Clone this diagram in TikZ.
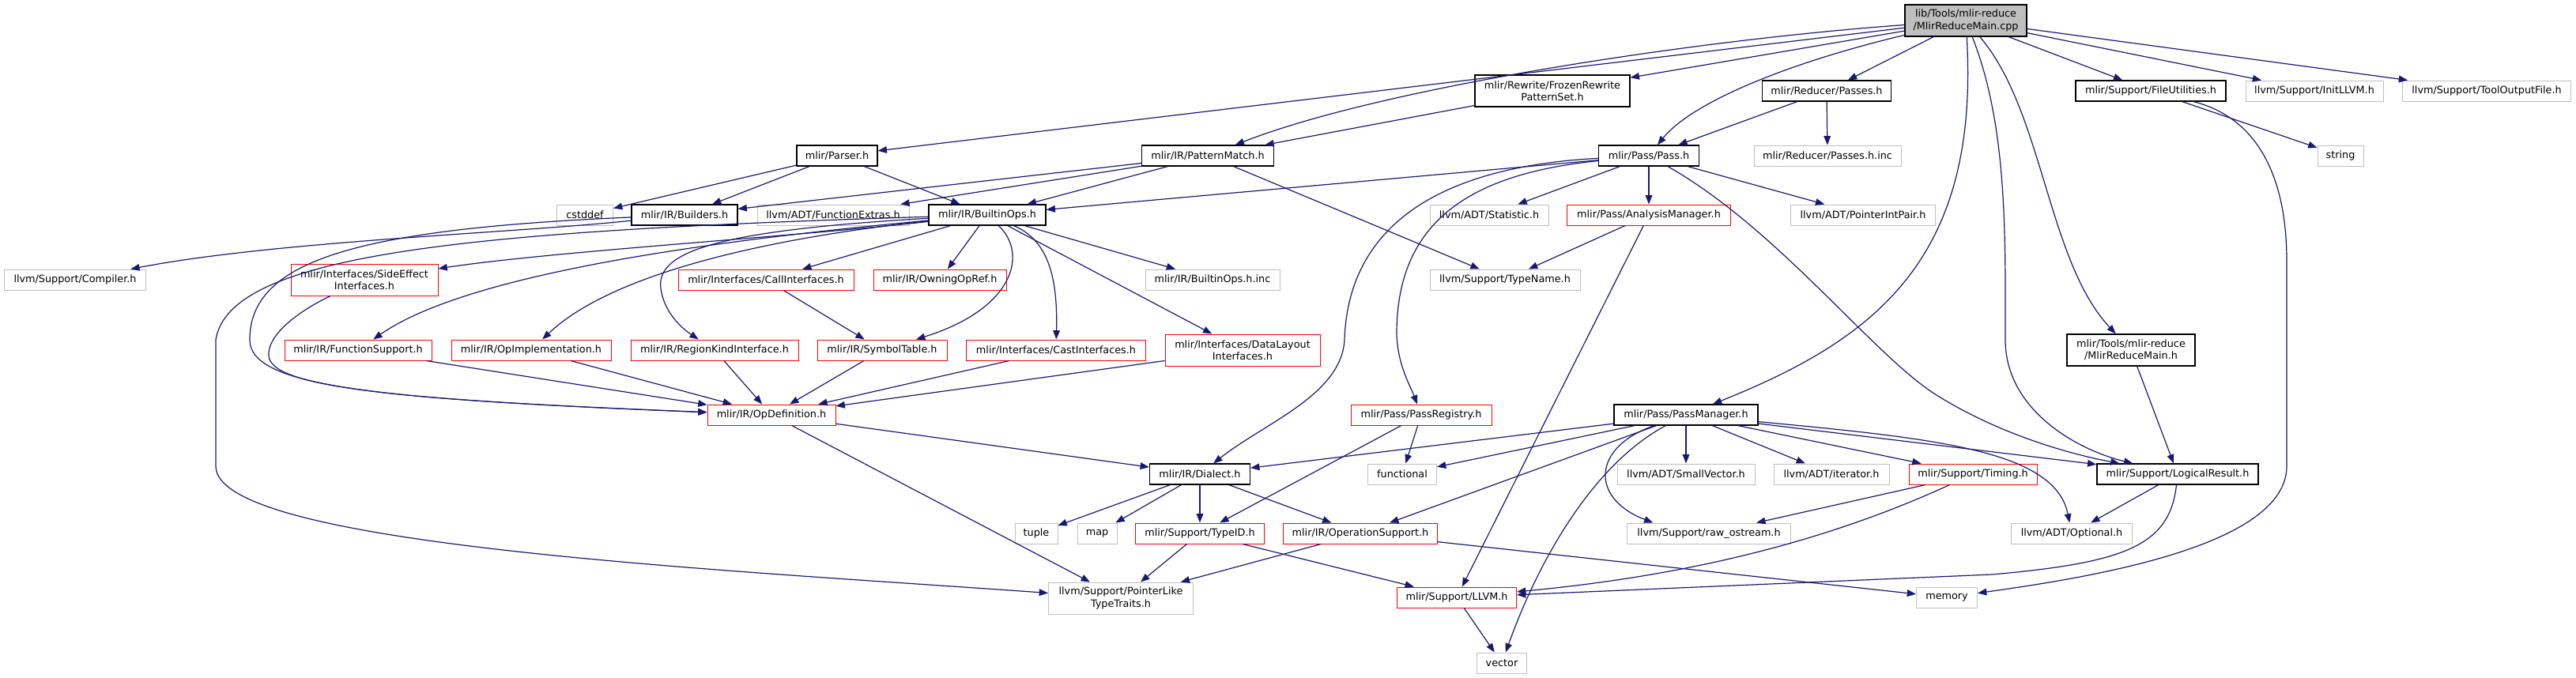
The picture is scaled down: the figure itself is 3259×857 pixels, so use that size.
\documentclass[tikz,border=0pt]{standalone}
\usepackage{fontspec}
\setmainfont{DejaVu Sans}
\usetikzlibrary{arrows.meta}

\definecolor{grey75}{HTML}{BFBFBF}
\definecolor{midnight}{HTML}{191970}

\tikzset{every picture/.style={line width=0.75pt}}
\tikzset{
  box/.style={draw, rectangle, inner xsep=2pt, inner ysep=2pt, minimum height=19.5pt,
    font=\fontsize{9.6}{11.5}\selectfont, align=center},
  file/.style={box, draw=black, line width=0.9pt},
  trunc/.style={box, draw=red},
  sys/.style={box, draw=grey75},
  root/.style={box, draw=black, line width=0.9pt, fill=grey75},
  wd/.style={minimum width=#1*0.75pt},
  tall/.style={minimum height=30pt},
  dep/.style={draw=midnight, line width=0.9pt, -{Triangle[length=8.5pt,width=6.5pt]}},
}

\begin{document}
\begin{tikzpicture}[x=0.75pt,y=0.75pt,yscale=-1,xscale=1]
\useasboundingbox (0,0) rectangle (3259,857);

%Root file
\node [root, wd=154, tall] (main) at (2487,26) {lib/Tools/mlir-reduce\\/MlirReduceMain.cpp};

% Row 1
\node [file, wd=196, tall] (frozen) at (1964,115) {mlir/Rewrite/FrozenRewrite\\PatternSet.h};
\node [file, wd=163] (reducerpasses) at (2311,115) {mlir/Reducer/Passes.h};
\node [file, wd=190] (fileutil) at (2721,115) {mlir/Support/FileUtilities.h};
\node [sys, wd=174] (initllvm) at (2928,115) {llvm/Support/InitLLVM.h};
\node [sys, wd=213] (tooloutput) at (3146,115) {llvm/Support/ToolOutputFile.h};

% Row 2
\node [file, wd=102] (parser) at (1059,197) {mlir/Parser.h};
\node [file, wd=167] (patternmatch) at (1528,197) {mlir/IR/PatternMatch.h};
\node [file, wd=127] (pass) at (2086,197) {mlir/Pass/Pass.h};
\node [sys, wd=186] (passesinc) at (2312,197) {mlir/Reducer/Passes.h.inc};
\node [sys, wd=58] (string) at (2961,197) {string};

% Row 3
\node [sys, wd=71] (cstddef) at (740,272) {cstddef};
\node [file, wd=134] (builders) at (866,272) {mlir/IR/Builders.h};
\node [sys, wd=192] (funcextras) at (1054,272) {llvm/ADT/FunctionExtras.h};
\node [file, wd=148] (builtinops) at (1249,272) {mlir/IR/BuiltinOps.h};
\node [sys, wd=150] (statistic) at (1884,272) {llvm/ADT/Statistic.h};
\node [trunc, wd=207] (analysis) at (2086,272) {mlir/Pass/AnalysisManager.h};
\node [sys, wd=183] (ptrintpair) at (2357,272) {llvm/ADT/PointerIntPair.h};

% Row 4
\node [sys, wd=179] (compiler) at (95,354) {llvm/Support/Compiler.h};
\node [trunc, wd=186, tall] (sideeffect) at (461,354) {mlir/Interfaces/SideEffect\\Interfaces.h};
\node [trunc, wd=222] (callif) at (969,354) {mlir/Interfaces/CallInterfaces.h};
\node [trunc, wd=168] (owning) at (1189,354) {mlir/IR/OwningOpRef.h};
\node [sys, wd=170] (builtininc) at (1534,354) {mlir/IR/BuiltinOps.h.inc};
\node [sys, wd=190] (typename) at (1904,354) {llvm/Support/TypeName.h};

% Row 5
\node [trunc, wd=186] (funcsupport) at (453,443) {mlir/IR/FunctionSupport.h};
\node [trunc, wd=202] (opimpl) at (672,443) {mlir/IR/OpImplementation.h};
\node [trunc, wd=212] (regionkind) at (904,443) {mlir/IR/RegionKindInterface.h};
\node [trunc, wd=164] (symtab) at (1116,443) {mlir/IR/SymbolTable.h};
\node [trunc, wd=227] (castif) at (1336,443) {mlir/Interfaces/CastInterfaces.h};
\node [trunc, wd=196, tall] (datalayout) at (1572,443) {mlir/Interfaces/DataLayout\\Interfaces.h};
\node [file, wd=162, tall] (toolsmain) at (2696,443) {mlir/Tools/mlir-reduce\\/MlirReduceMain.h};

% Row 6
\node [trunc, wd=162] (opdef) at (976,525) {mlir/IR/OpDefinition.h};
\node [trunc, wd=178] (passreg) at (1798,525) {mlir/Pass/PassRegistry.h};
\node [file, wd=182] (passmgr) at (2133,525) {mlir/Pass/PassManager.h};

% Row 7
\node [file, wd=127] (dialect) at (1518,600) {mlir/IR/Dialect.h};
\node [sys, wd=87] (functional) at (1774,600) {functional};
\node [sys, wd=174] (smallvec) at (2133,600) {llvm/ADT/SmallVector.h};
\node [sys, wd=146] (iterator) at (2317,600) {llvm/ADT/iterator.h};
\node [trunc, wd=162] (timing) at (2496,600) {mlir/Support/Timing.h};
\node [file, wd=204] (logical) at (2755,600) {mlir/Support/LogicalResult.h};

% Row 8
\node [sys, wd=54] (tuple) at (1311,675) {tuple};
\node [sys, wd=50] (map) at (1388,675) {map};
\node [trunc, wd=163] (typeid) at (1518,675) {mlir/Support/TypeID.h};
\node [trunc, wd=195] (opsupport) at (1721,675) {mlir/IR/OperationSupport.h};
\node [sys, wd=207] (rawostream) at (2162,675) {llvm/Support/raw\_ostream.h};
\node [sys, wd=153] (optional) at (2621,675) {llvm/ADT/Optional.h};

% Row 9
\node [sys, wd=183, tall] (pointerlike) at (1418,757) {llvm/Support/PointerLike\\TypeTraits.h};
\node [trunc, wd=151] (llvmh) at (1843,756) {mlir/Support/LLVM.h};
\node [sys, wd=77] (memory) at (2463,756) {memory};
\node [sys, wd=63] (vector) at (1900,839) {vector};

%Edges from the root file
\draw [dep] (main) -- (parser);
\draw [dep] (main) .. controls (2150,50) and (1750,110) .. (patternmatch);
\draw [dep] (main) -- (frozen);
\draw [dep] (main) .. controls (2260,80) and (2140,130) .. (pass);
\draw [dep] (main) -- (reducerpasses);
\draw [dep] (main) .. controls (2505,330) and (2370,430) .. (passmgr);
\draw [dep] (main) .. controls (2585,140) and (2590,330) .. (toolsmain);
\draw [dep] (main) .. controls (2540,160) and (2537,300) .. (2537,430) .. controls (2537,520) and (2630,570) .. (logical);
\draw [dep] (main) -- (fileutil);
\draw [dep] (main) -- (initllvm);
\draw [dep] (main) -- (tooloutput);

%Edges, upper rows
\draw [dep] (frozen) -- (patternmatch);
\draw [dep] (reducerpasses) -- (pass);
\draw [dep] (reducerpasses) -- (passesinc);
\draw [dep] (fileutil) -- (string);
\draw [dep] (fileutil) .. controls (2860,150) and (2893,230) .. (2893,330) -- (2893,590) .. controls (2893,690) and (2650,730) .. (memory);
\draw [dep] (parser) -- (cstddef);
\draw [dep] (parser) -- (builders);
\draw [dep] (parser) -- (builtinops);
\draw [dep] (patternmatch) -- (builders);
\draw [dep] (patternmatch) -- (funcextras);
\draw [dep] (patternmatch) -- (builtinops);
\draw [dep] (patternmatch) -- (typename);
\draw [dep] (pass) -- (builtinops);
\draw [dep] (pass) -- (statistic);
\draw [dep] (pass) -- (analysis);
\draw [dep] (pass) -- (ptrintpair);
\draw [dep] (pass) .. controls (1800,212) and (1705,300) .. (1701,430) .. controls (1697,500) and (1600,535) .. (dialect);
\draw [dep] (pass) .. controls (1860,220) and (1768,280) .. (1767,420) .. controls (1767,460) and (1785,490) .. (passreg);
\draw [dep] (pass) .. controls (2250,290) and (2370,450) .. (2450,500) .. controls (2530,550) and (2620,575) .. (logical);
\draw [dep] (analysis) -- (typename);
\draw [dep] (analysis) -- (llvmh);

%Edges from Builders.h and BuiltinOps.h
\draw [dep] (builders) .. controls (650,295) and (350,305) .. (compiler);
\draw [dep] (builders) .. controls (450,290) and (316,330) .. (316,430) .. controls (316,490) and (480,505) .. (opdef);
\draw [dep] (builtinops) .. controls (1000,300) and (700,318) .. (sideeffect);
\draw [dep] (builtinops) .. controls (950,300) and (600,340) .. (funcsupport);
\draw [dep] (builtinops) .. controls (1000,298) and (780,340) .. (opimpl);
\draw [dep] (builtinops) .. controls (900,292) and (830,320) .. (836,365) .. controls (840,395) and (862,415) .. (regionkind);
\draw [dep] (builtinops) .. controls (600,292) and (290,320) .. (273,430) -- (273,590) .. controls (273,690) and (900,720) .. (pointerlike);
\draw [dep] (builtinops) -- (callif);
\draw [dep] (builtinops) -- (owning);
\draw [dep] (builtinops) .. controls (1300,320) and (1285,390) .. (symtab);
\draw [dep] (builtinops) .. controls (1330,305) and (1338,360) .. (castif);
\draw [dep] (builtinops) -- (datalayout);
\draw [dep] (builtinops) -- (builtininc);

%Edges into OpDefinition.h
\draw [dep] (sideeffect) .. controls (375,395) and (338,425) .. (340,450) .. controls (342,490) and (500,506) .. (opdef);
\draw [dep] (funcsupport) -- (opdef);
\draw [dep] (opimpl) -- (opdef);
\draw [dep] (regionkind) -- (opdef);
\draw [dep] (symtab) -- (opdef);
\draw [dep] (castif) -- (opdef);
\draw [dep] (datalayout) -- (opdef);
\draw [dep] (callif) -- (symtab);

%Edges, lower rows
\draw [dep] (opdef) -- (dialect);
\draw [dep] (opdef) -- (pointerlike);
\draw [dep] (dialect) -- (tuple);
\draw [dep] (dialect) -- (map);
\draw [dep] (dialect) -- (typeid);
\draw [dep] (dialect) -- (opsupport);
\draw [dep] (passreg) -- (functional);
\draw [dep] (passreg) -- (typeid);
\draw [dep] (passmgr) -- (dialect);
\draw [dep] (passmgr) -- (functional);
\draw [dep] (passmgr) -- (opsupport);
\draw [dep] (passmgr) .. controls (2020,585) and (1950,700) .. (vector);
\draw [dep] (passmgr) .. controls (2015,565) and (2010,630) .. ([xshift=25pt]rawostream.north west);
\draw [dep] (passmgr) -- (smallvec);
\draw [dep] (passmgr) -- (iterator);
\draw [dep] (passmgr) -- (timing);
\draw [dep] (passmgr) -- (logical);
\draw [dep] (passmgr) .. controls (2450,555) and (2600,570) .. (optional);
\draw [dep] (timing) -- (rawostream);
\draw [dep] (timing) .. controls (2300,690) and (2120,730) .. (llvmh);
\draw [dep] (logical) -- (optional);
\draw [dep] (logical) .. controls (2745,690) and (2690,712) .. (2520,727) -- (llvmh);
\draw [dep] (toolsmain) -- (logical);
\draw [dep] (typeid) -- (pointerlike);
\draw [dep] (typeid) -- (llvmh);
\draw [dep] (opsupport) -- (pointerlike);
\draw [dep] (opsupport) -- (memory);
\draw [dep] (llvmh) -- (vector);

\end{tikzpicture}
\end{document}
